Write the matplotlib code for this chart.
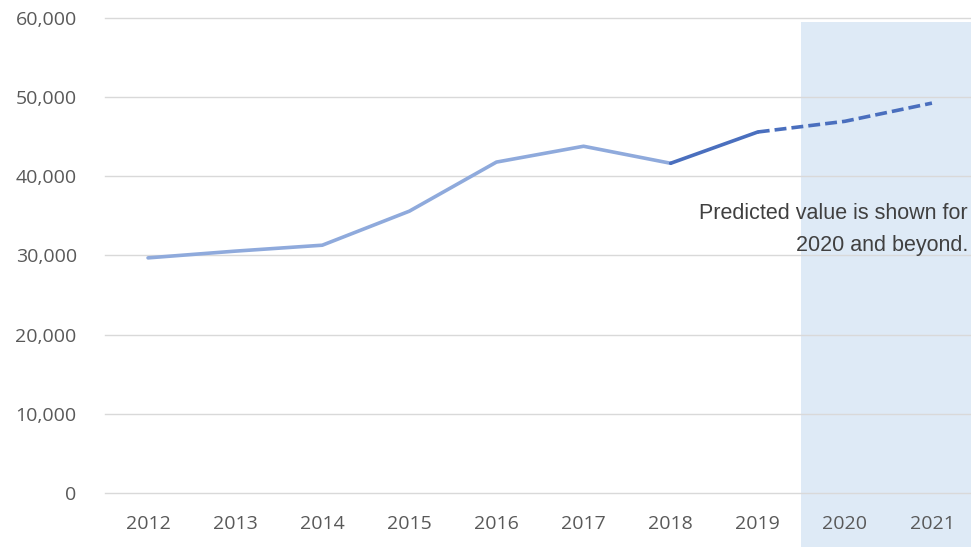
import matplotlib

matplotlib.use("Agg")
import matplotlib.pyplot as plt
from matplotlib.ticker import FuncFormatter

years = [2012, 2013, 2014, 2015, 2016, 2017, 2018, 2019, 2020, 2021]
values = [29700, 30550, 31300, 35600, 41800, 43800, 41650, 45600, 46950, 49250]
actual_end = 2018      # light line runs up to here
forecast_start = 2019  # dashed line starts here
yticks = [0, 10000, 20000, 30000, 40000, 50000, 60000]
note = "Predicted value is shown for\n2020 and beyond."

LIGHT = "#8FAADC"
DARK = "#4A6FBE"
SHADE = "#DEEAF6"
GRID = "#D9D9D9"
LABEL = "#595959"

plt.rcParams["font.family"] = ["Open Sans", "DejaVu Sans"]

fig = plt.figure(figsize=(9.71, 5.47), dpi=100)
W, H = 971, 547
ax = fig.add_axes([104.5 / W, (H - 493) / H, 871 / W, 475 / H])

i_a = years.index(actual_end)
i_f = years.index(forecast_start)

# forecast band, running below the axis through the tick labels
ax.axvspan(2019.5, 2021.6, ymin=-0.12, ymax=0.9916, color=SHADE, lw=0,
           clip_on=False, zorder=0)

ax.plot(years[:i_a + 1], values[:i_a + 1], color=LIGHT, lw=2.6,
        solid_capstyle="round", zorder=3)
ax.plot(years[i_a:i_f + 1], values[i_a:i_f + 1], color=DARK, lw=2.6,
        solid_capstyle="round", zorder=3)
ax.plot(years[i_f:], values[i_f:], color=DARK, lw=2.6, ls=(0, (3.3, 1.4)),
        dash_capstyle="butt", zorder=3)

ax.set_xlim(2011.5, 2021.5)
ax.set_ylim(0, 60000)
ax.set_xticks(years)
ax.set_yticks(yticks)
ax.yaxis.set_major_formatter(FuncFormatter(lambda v, _: f"{int(v):,}"))
ax.grid(axis="y", color=GRID, lw=1)
for gl in ax.get_ygridlines():
    gl.set_clip_on(False)
ax.set_axisbelow(True)
for s in ax.spines.values():
    s.set_visible(False)
ax.tick_params(length=0, labelsize=14, labelcolor=LABEL)
ax.tick_params(axis="y", pad=20)
ax.tick_params(axis="x", pad=16)

ax.text(0.9915, 0.555, note, transform=ax.transAxes, ha="right", va="center",
        fontsize=15.5, color="#404040", linespacing=1.7,
        family=["Liberation Sans", "DejaVu Sans"], zorder=4)

fig.savefig("out.png", dpi=100)
